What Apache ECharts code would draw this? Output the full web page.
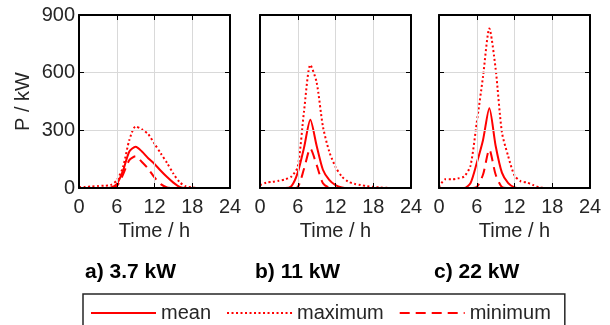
<!DOCTYPE html>
<html>
<head>
<meta charset="utf-8">
<script src="https://cdn.jsdelivr.net/npm/echarts@6/dist/echarts.min.js"></script>
<style>
  html, body { margin: 0; padding: 0; background: #fff; }
  #chart { width: 610px; height: 325px; }
</style>
</head>
<body>
<div id="chart"></div>
<script>
// hourly time stamps, h
const times = [0, 1, 2, 3, 4, 5, 6, 7, 8, 9, 10, 11, 12, 13, 14, 15, 16, 17, 18, 19, 20, 21, 22, 23, 24];
const xTicks = [0, 6, 12, 18, 24];
const yTicks = [0, 300, 600, 900];
const panelTitles = ['a) 3.7 kW', 'b) 11 kW', 'c) 22 kW'];

// a) 3.7 kW
const meanA = [0, 0, 0, 0, 0, 2, 20, 90, 190, 215, 190, 155, 125, 90, 57, 28, 5, 0, 0, 0, 0, 0, 0, 0, 0];
const maxA = [5, 6, 8, 10, 12, 15, 40, 110, 250, 320, 305, 280, 230, 180, 130, 75, 30, 8, 3, 0, 0, 0, 0, 0, 0];
const minA = [0, 0, 0, 0, 0, 0, 10, 70, 145, 165, 135, 100, 55, 20, 3, 0, 0, 0, 0, 0, 0, 0, 0, 0, 0];
// b) 11 kW
const meanB = [0, 0, 0, 0, 0, 10, 80, 210, 355, 220, 95, 42, 15, 3, 0, 0, 0, 0, 0, 0, 0, 0, 0, 0, 0];
const maxB = [15, 28, 32, 38, 45, 60, 110, 400, 640, 550, 320, 190, 110, 60, 33, 22, 15, 10, 6, 3, 1, 0, 0, 0, 0];
const minB = [0, 0, 0, 0, 0, 0, 5, 100, 205, 120, 25, 2, 0, 0, 0, 0, 0, 0, 0, 0, 0, 0, 0, 0, 0];
// c) 22 kW
const meanC = [0, 0, 0, 0, 0, 25, 130, 250, 415, 220, 80, 25, 3, 0, 0, 0, 0, 0, 0, 0, 0, 0, 0, 0, 0];
const maxC = [5, 45, 45, 50, 60, 115, 340, 580, 830, 620, 290, 165, 65, 35, 28, 15, 3, 0, 0, 0, 0, 0, 0, 0, 0];
const minC = [0, 0, 0, 0, 0, 0, 5, 70, 200, 70, 5, 0, 0, 0, 0, 0, 0, 0, 0, 0, 0, 0, 0, 0, 0];

const panels = [
  { mean: meanA, max: maxA, min: minA },
  { mean: meanB, max: maxB, min: minB },
  { mean: meanC, max: maxC, min: minC }
];

const FONT = 'Liberation Sans, Arial, sans-serif';
const RED = '#ff0000';
const gridLefts = [79, 260, 439];

const chart = echarts.init(document.getElementById('chart'));

const grids = [], xAxes = [], yAxes = [], series = [], titles = [];

const frameLine = { show: true, onZero: false, lineStyle: { color: '#000', width: 2 } };
const inTick = { show: true, inside: true, length: 5, lineStyle: { color: '#000', width: 1 } };

gridLefts.forEach(function (left, i) {
  grids.push({ left: left, top: 15, width: 151, height: 173, show: true, backgroundColor: '#fff', borderWidth: 0 });

  // bottom + top x axes
  xAxes.push({
    gridIndex: i, type: 'value', min: xTicks[0], max: xTicks[xTicks.length - 1], interval: 6,
    position: 'bottom', z: 5,
    name: 'Time / h', nameLocation: 'middle', nameGap: 32,
    nameTextStyle: { fontFamily: FONT, fontSize: 20, color: '#262626' },
    axisLine: frameLine, axisTick: inTick,
    axisLabel: { margin: 9, fontFamily: FONT, fontSize: 20, color: '#262626' },
    splitLine: { show: true, lineStyle: { color: '#d9d9d9', width: 1 } }
  });
  xAxes.push({
    gridIndex: i, type: 'value', min: 0, max: 24, interval: 6, position: 'top', z: 5,
    axisLine: frameLine, axisTick: inTick,
    axisLabel: { show: false }, splitLine: { show: false }
  });

  // left + right y axes
  yAxes.push({
    gridIndex: i, type: 'value', min: yTicks[0], max: yTicks[yTicks.length - 1], interval: 300,
    position: 'left', z: 5,
    name: i === 0 ? 'P / kW' : '', nameLocation: 'middle', nameGap: 46, nameRotate: 90,
    nameTextStyle: { fontFamily: FONT, fontSize: 20, color: '#262626' },
    axisLine: frameLine, axisTick: inTick,
    axisLabel: { show: i === 0, margin: 4, fontFamily: FONT, fontSize: 20, color: '#262626' },
    splitLine: { show: true, lineStyle: { color: '#d9d9d9', width: 1 } }
  });
  yAxes.push({
    gridIndex: i, type: 'value', min: 0, max: 900, interval: 300, position: 'right', z: 5,
    axisLine: frameLine, axisTick: inTick,
    axisLabel: { show: false }, splitLine: { show: false }
  });

  const p = panels[i];
  const defs = [
    { name: 'mean', vals: p.mean, type: 'solid' },
    { name: 'maximum', vals: p.max, type: [2, 2.5] },
    { name: 'minimum', vals: p.min, type: [10, 6] }
  ];
  defs.forEach(function (d) {
    series.push({
      name: d.name, type: 'line', xAxisIndex: i * 2, yAxisIndex: i * 2,
      data: times.map(function (t, k) { return [t, d.vals[k]]; }),
      symbol: 'none', smooth: 0.25, z: 3,
      itemStyle: { color: RED },
      lineStyle: { color: RED, width: 2, type: d.type }
    });
  });

  titles.push({
    text: panelTitles[i], left: [85, 255, 434][i], top: 262, padding: 0,
    textStyle: { fontFamily: FONT, fontSize: 21, fontWeight: 'bold', color: '#000' }
  });
});

chart.setOption({
  animation: false,
  title: titles,
  grid: grids,
  xAxis: xAxes,
  yAxis: yAxes,
  series: series,
  legend: {
    data: ['mean', 'maximum', 'minimum'],
    left: 83, top: 294,
    padding: [9, 14, 14, 7],
    itemWidth: 65, itemHeight: 14, itemGap: 15,
    borderColor: '#262626', borderWidth: 1.5,
    backgroundColor: '#fff',
    selectedMode: false,
    itemStyle: { opacity: 0, borderWidth: 0 },
    textStyle: { fontFamily: FONT, fontSize: 20, color: '#262626' }
  }
});
</script>
</body>
</html>
